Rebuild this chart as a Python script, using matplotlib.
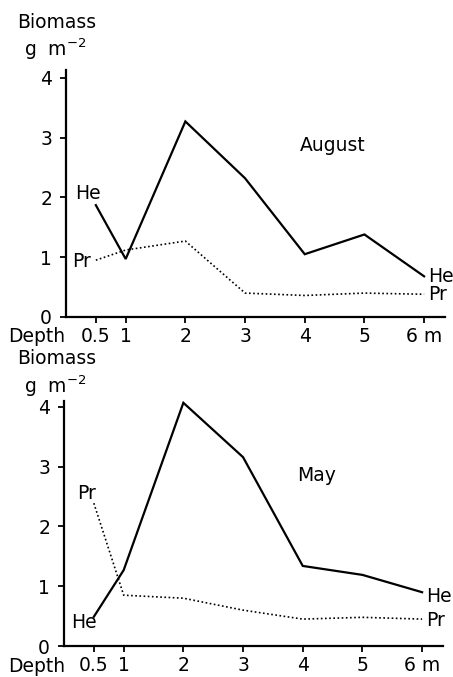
import matplotlib
matplotlib.use("Agg")
import matplotlib.pyplot as plt

# Depth of the sampling stations (m)
depth = [0.5, 1, 2, 3, 4, 5, 6]
depth_ticks = [0.5, 1, 2, 3, 4, 5, 6]
depth_labels = ["0.5", "1", "2", "3", "4", "5", "6 m"]
biomass_ticks = [0, 1, 2, 3, 4]

# Biomass, g m^-2
aug_he = [1.87, 0.97, 3.27, 2.32, 1.05, 1.38, 0.68]
aug_pr = [0.95, 1.12, 1.27, 0.40, 0.36, 0.40, 0.38]
may_he = [0.49, 1.27, 4.07, 3.16, 1.34, 1.19, 0.90]
may_pr = [2.39, 0.85, 0.80, 0.60, 0.45, 0.48, 0.45]

plt.rcParams["font.family"] = ["DejaVu Sans"]
FS = 13.5

fig = plt.figure(figsize=(4.53, 6.77), dpi=100)

panels = [
    dict(rect=[66 / 453, 1 - 317 / 677, 379 / 453, 247 / 677], he=aug_he, pr=aug_pr,
         month="August", ytop=4.13, mpos=(3.92, 2.87),
         he_l=(0.15, 2.07), pr_l=(0.10, 0.92), he_r=0.68, pr_r=0.37,
         ytxt=22, ydepth=336),
    dict(rect=[64 / 453, 1 - 646 / 677, 379 / 453, 245 / 677], he=may_he, pr=may_pr,
         month="May", ytop=4.10, mpos=(3.91, 2.86),
         he_l=(0.12, 0.40), pr_l=(0.22, 2.56), he_r=0.82, pr_r=0.43,
         ytxt=359, ydepth=666),
]

for p in panels:
    ax = fig.add_axes(p["rect"])
    ax.plot(depth, p["he"], color="black", lw=1.6, solid_joinstyle="miter")
    ax.plot(depth, p["pr"], color="black", lw=1.2, linestyle=(0, (1, 1.5)))
    ax.set_xlim(0, 6.35)
    ax.set_ylim(0, p["ytop"])
    for s in ("top", "right"):
        ax.spines[s].set_visible(False)
    for s in ("left", "bottom"):
        ax.spines[s].set_linewidth(1.6)
    ax.set_xticks(depth_ticks)
    ax.set_xticklabels(depth_labels)
    ax.set_yticks(biomass_ticks)
    ax.tick_params(axis="both", direction="out", length=4, width=1.3,
                   labelsize=FS, pad=3)
    ax.tick_params(axis="y", pad=6)
    # month tag
    ax.text(*p["mpos"], p["month"], fontsize=FS, ha="left", va="center")
    # line labels
    ax.text(*p["he_l"], "He", fontsize=FS, ha="left", va="center")
    ax.text(*p["pr_l"], "Pr", fontsize=FS, ha="left", va="center")
    ax.text(6.07, p["he_r"], "He", fontsize=FS, ha="left", va="center")
    ax.text(6.07, p["pr_r"], "Pr", fontsize=FS, ha="left", va="center")
    # y-axis caption
    yt = p["ytxt"]
    fig.text(17 / 453, 1 - yt / 677, "Biomass", fontsize=FS, ha="left", va="center")
    fig.text(24 / 453, 1 - (yt + 27) / 677, r"g  m$^{-2}$", fontsize=FS,
             ha="left", va="center")
    # "Depth" caption beside the depth tick labels
    fig.text(8 / 453, 1 - p["ydepth"] / 677, "Depth", fontsize=FS,
             ha="left", va="center")

fig.savefig("out.png", dpi=100)
